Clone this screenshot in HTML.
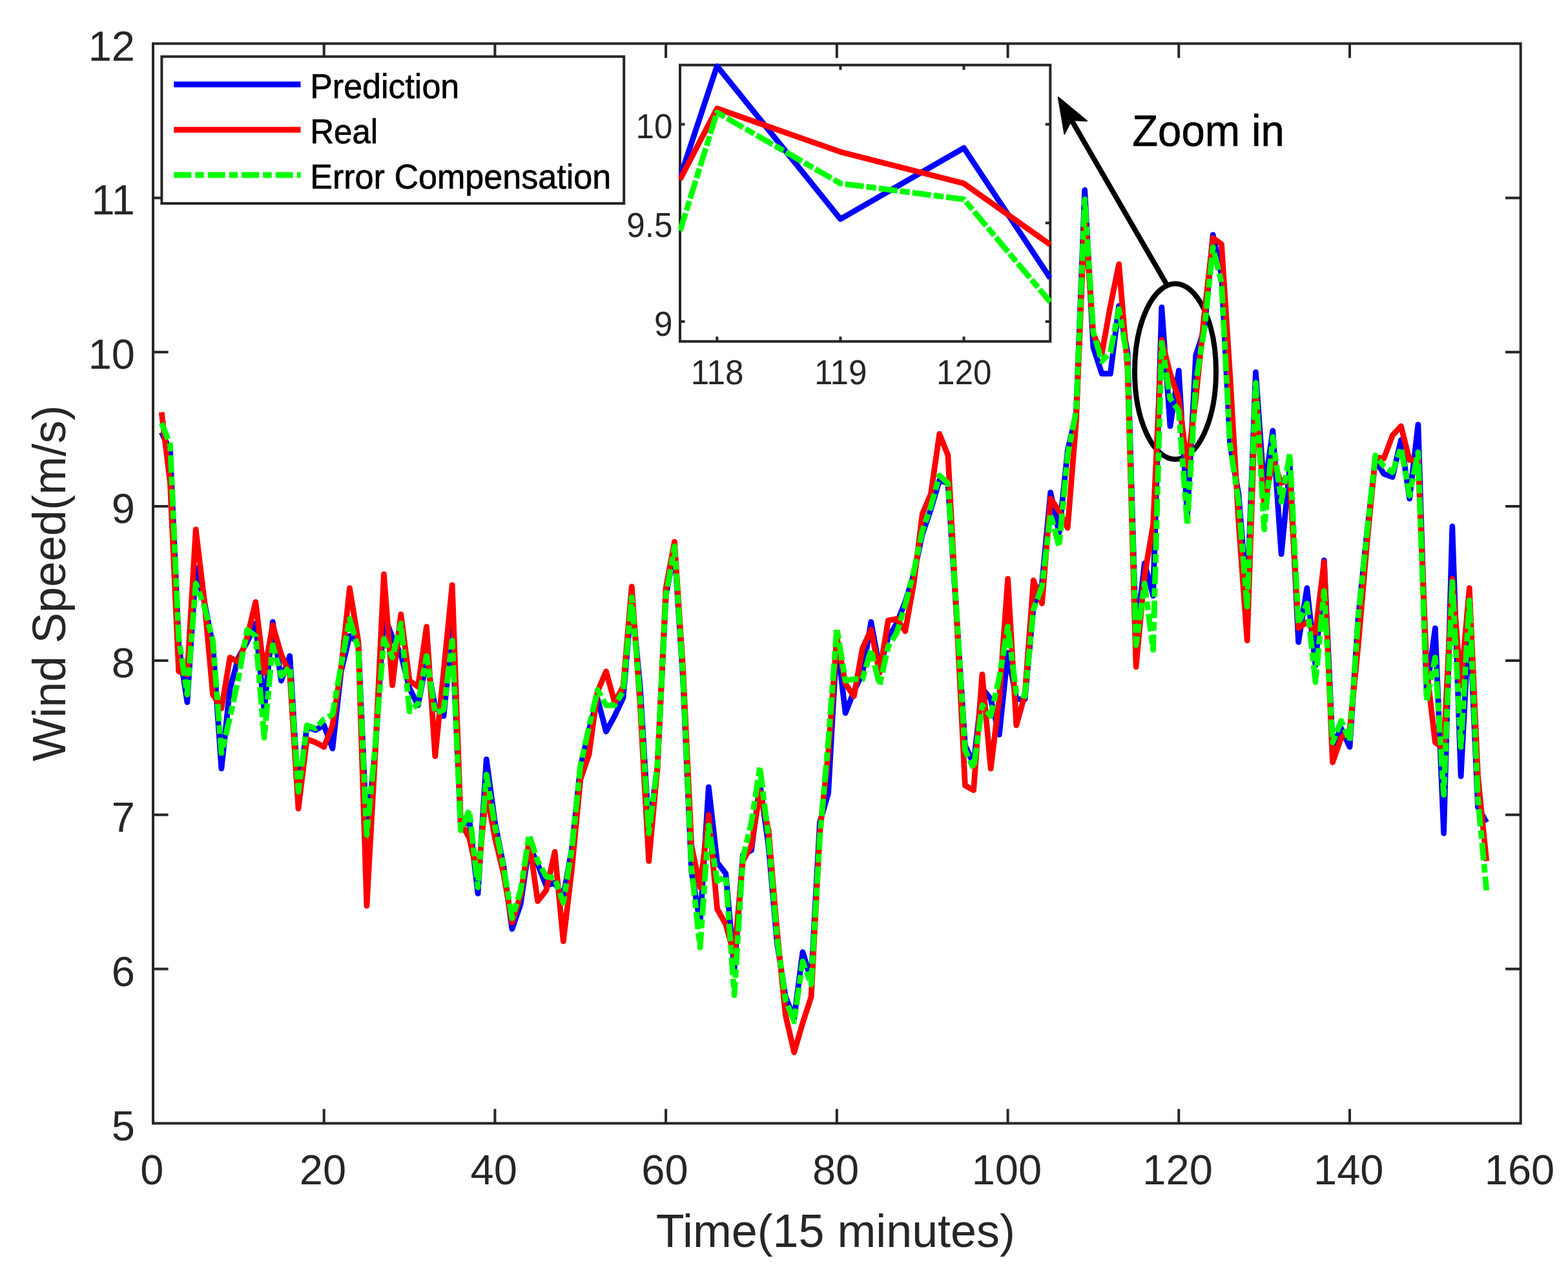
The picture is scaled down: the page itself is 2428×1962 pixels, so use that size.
<!DOCTYPE html>
<html lang="en"><head><meta charset="utf-8"><title>Wind speed prediction</title>
<style>html,body{margin:0;padding:0;background:#fff}body{width:2428px;height:1962px;overflow:hidden}svg{display:block}text{font-family:'Liberation Sans', sans-serif}</style>
</head><body>
<svg width="2428" height="1962" viewBox="0 0 2428 1962">
<rect width="2428" height="1962" fill="#fff"/>
<defs><clipPath id="cm"><rect x="237.0" y="67.5" width="2117.7" height="1672.0"/></clipPath>
<clipPath id="ci"><rect x="1050.8" y="98.5" width="577.7" height="432.4"/></clipPath></defs>
<ellipse cx="1820.0" cy="575.3" rx="63.0" ry="136.0" fill="none" stroke="#000" stroke-width="8.0"/>
<g stroke="#262626" stroke-width="4.0" fill="none" stroke-linecap="butt">
<rect x="237.0" y="67.5" width="2117.7" height="1672.0"/>
<path d="M501.7 1739.5v-22.3M501.7 67.5v22.3M766.4 1739.5v-22.3M766.4 67.5v22.3M1031.1 1739.5v-22.3M1031.1 67.5v22.3M1295.8 1739.5v-22.3M1295.8 67.5v22.3M1560.6 1739.5v-22.3M1560.6 67.5v22.3M1825.3 1739.5v-22.3M1825.3 67.5v22.3M2090.0 1739.5v-22.3M2090.0 67.5v22.3M237.0 1500.6h23.6M2354.7 1500.6h-23.6M237.0 1261.8h23.6M2354.7 1261.8h-23.6M237.0 1022.9h23.6M2354.7 1022.9h-23.6M237.0 784.1h23.6M2354.7 784.1h-23.6M237.0 545.2h23.6M2354.7 545.2h-23.6M237.0 306.4h23.6M2354.7 306.4h-23.6"/>
</g>
<g clip-path="url(#cm)" fill="none" stroke-width="8.80" stroke-linejoin="round" stroke-linecap="butt">
<polyline stroke="#0000ff" points="250.2,669.4 263.5,698.1 276.7,999.0 289.9,1087.4 303.2,879.6 316.4,932.2 329.6,999.0 342.9,1190.1 356.1,1065.9 369.4,1018.2 382.6,994.3 395.8,965.6 409.1,1099.4 422.3,963.2 435.5,1054.0 448.8,1015.8 462.0,1230.7 475.2,1125.6 488.5,1130.4 501.7,1123.2 514.9,1159.1 528.2,1039.6 541.4,984.7 554.7,994.3 567.9,1290.4 581.1,1161.5 594.4,951.3 607.6,987.1 620.8,1013.4 634.1,1065.9 647.3,1092.2 660.5,1022.9 673.8,1094.6 687.0,1108.9 700.2,975.2 713.5,1280.9 726.7,1269.0 740.0,1383.6 753.2,1175.8 766.4,1273.7 779.7,1340.6 792.9,1438.5 806.1,1400.3 819.4,1309.6 832.6,1338.2 845.8,1371.7 859.1,1366.9 872.3,1388.4 885.5,1314.3 898.8,1187.7 912.0,1130.4 925.3,1082.6 938.5,1132.8 951.7,1108.9 965.0,1080.3 978.2,927.4 991.4,1065.9 1004.7,1285.7 1017.9,1190.1 1031.1,922.6 1044.4,851.0 1057.6,1051.6 1070.8,1350.2 1084.1,1429.0 1097.3,1218.8 1110.6,1335.8 1123.8,1352.6 1137.0,1500.6 1150.3,1323.9 1163.5,1316.7 1176.7,1214.0 1190.0,1309.6 1203.2,1460.0 1216.4,1543.6 1229.7,1577.1 1242.9,1474.4 1256.1,1517.4 1269.4,1273.7 1282.6,1228.3 1295.8,991.9 1309.1,1104.1 1322.3,1070.7 1335.6,1042.0 1348.8,963.2 1362.0,1034.9 1375.3,987.1 1388.5,965.6 1401.7,932.2 1415.0,889.2 1428.2,827.1 1441.4,788.8 1454.7,743.5 1467.9,748.2 1481.1,951.3 1494.4,1154.3 1507.6,1183.0 1520.9,1065.9 1534.1,1082.6 1547.3,1137.6 1560.6,1011.0 1573.8,1082.6 1587.0,1082.6 1600.3,939.3 1613.5,903.5 1626.7,762.6 1640.0,824.7 1653.2,698.1 1666.4,640.8 1679.7,294.4 1692.9,538.0 1706.2,578.7 1719.4,578.7 1732.6,473.6 1745.9,545.2 1759.1,987.1 1772.3,872.4 1785.6,922.6 1798.8,475.9 1812.0,659.9 1825.3,573.9 1838.5,798.4 1851.7,550.0 1865.0,509.4 1878.2,363.7 1891.5,425.8 1904.7,688.5 1917.9,765.0 1931.2,927.4 1944.4,576.3 1957.6,760.2 1970.9,667.0 1984.1,858.1 1997.3,722.0 2010.6,994.3 2023.8,910.7 2037.0,1030.1 2050.3,867.7 2063.5,1154.3 2076.8,1128.0 2090.0,1156.7 2103.2,956.0 2116.5,827.1 2129.7,712.4 2142.9,733.9 2156.2,738.7 2169.4,681.4 2182.6,772.1 2195.9,657.5 2209.1,1070.7 2222.3,972.8 2235.6,1290.4 2248.8,815.1 2262.1,1202.1 2275.3,951.3 2288.5,1249.8 2301.8,1273.7"/>
<polyline stroke="#ff0000" points="250.2,638.4 263.5,748.2 276.7,1039.6 289.9,1044.4 303.2,819.9 316.4,929.8 329.6,1075.5 342.9,1097.0 356.1,1018.2 369.4,1025.3 382.6,987.1 395.8,932.2 409.1,1042.0 422.3,968.0 435.5,1013.4 448.8,1044.4 462.0,1252.2 475.2,1144.7 488.5,1149.5 501.7,1156.7 514.9,1123.2 528.2,1034.9 541.4,910.7 554.7,991.9 567.9,1402.7 581.1,1166.2 594.4,889.2 607.6,1061.1 620.8,951.3 634.1,1054.0 647.3,1063.5 660.5,970.4 673.8,1171.0 687.0,1039.6 700.2,905.9 713.5,1273.7 726.7,1297.6 740.0,1357.3 753.2,1226.0 766.4,1297.6 779.7,1352.6 792.9,1429.0 806.1,1386.0 819.4,1302.4 832.6,1395.5 845.8,1378.8 859.1,1319.1 872.3,1457.6 885.5,1345.4 898.8,1206.8 912.0,1168.6 925.3,1070.7 938.5,1039.6 951.7,1087.4 965.0,1063.5 978.2,908.3 991.4,1094.6 1004.7,1333.4 1017.9,1190.1 1031.1,910.7 1044.4,839.0 1057.6,1034.9 1070.8,1309.6 1084.1,1374.0 1097.3,1261.8 1110.6,1407.5 1123.8,1431.4 1137.0,1479.1 1150.3,1333.4 1163.5,1309.6 1176.7,1226.0 1190.0,1285.7 1203.2,1440.9 1216.4,1572.3 1229.7,1629.6 1242.9,1584.2 1256.1,1543.6 1269.4,1290.4 1282.6,1166.2 1295.8,987.1 1309.1,1058.8 1322.3,1077.9 1335.6,1003.8 1348.8,975.2 1362.0,1042.0 1375.3,960.8 1388.5,958.4 1401.7,977.5 1415.0,903.5 1428.2,796.0 1441.4,765.0 1454.7,671.8 1467.9,705.2 1481.1,951.3 1494.4,1216.4 1507.6,1223.6 1520.9,1044.4 1534.1,1190.1 1547.3,1082.6 1560.6,896.3 1573.8,1123.2 1587.0,1075.5 1600.3,898.7 1613.5,934.6 1626.7,772.1 1640.0,791.2 1653.2,817.5 1666.4,652.7 1679.7,330.2 1692.9,516.6 1706.2,547.6 1719.4,473.6 1732.6,409.1 1745.9,569.1 1759.1,1032.5 1772.3,891.6 1785.6,812.7 1798.8,526.1 1812.0,578.7 1825.3,616.9 1838.5,722.0 1851.7,616.9 1865.0,485.5 1878.2,368.5 1891.5,378.0 1904.7,581.0 1917.9,808.0 1931.2,991.9 1944.4,604.9 1957.6,784.1 1970.9,712.4 1984.1,748.2 1997.3,741.1 2010.6,972.8 2023.8,963.2 2037.0,979.9 2050.3,870.1 2063.5,1180.6 2076.8,1142.4 2090.0,1130.4 2103.2,999.0 2116.5,843.8 2129.7,707.6 2142.9,710.0 2156.2,674.2 2169.4,659.9 2182.6,712.4 2195.9,712.4 2209.1,1034.9 2222.3,1149.5 2235.6,1159.1 2248.8,896.3 2262.1,1061.1 2275.3,910.7 2288.5,1202.1 2301.8,1333.4"/>
<polyline stroke="#00ff00" stroke-dasharray="27 6 13.5 6" points="250.2,655.1 263.5,688.5 276.7,987.1 289.9,1075.5 303.2,903.5 316.4,939.3 329.6,991.9 342.9,1166.2 356.1,1111.3 369.4,1049.2 382.6,975.2 395.8,984.7 409.1,1142.4 422.3,999.0 435.5,1046.8 448.8,1032.5 462.0,1226.0 475.2,1123.2 488.5,1128.0 501.7,1113.7 514.9,1106.5 528.2,1030.1 541.4,958.4 554.7,1003.8 567.9,1292.8 581.1,1154.3 594.4,989.5 607.6,1018.2 620.8,965.6 634.1,1101.8 647.3,1089.8 660.5,1015.8 673.8,1104.1 687.0,1099.4 700.2,991.9 713.5,1285.7 726.7,1254.6 740.0,1374.0 753.2,1199.7 766.4,1278.5 779.7,1343.0 792.9,1421.8 806.1,1378.8 819.4,1292.8 832.6,1333.4 845.8,1357.3 859.1,1359.7 872.3,1397.9 885.5,1314.3 898.8,1185.4 912.0,1125.6 925.3,1068.3 938.5,1092.2 951.7,1092.2 965.0,1070.7 978.2,925.0 991.4,1082.6 1004.7,1290.4 1017.9,1185.4 1031.1,922.6 1044.4,846.2 1057.6,1046.8 1070.8,1345.4 1084.1,1467.2 1097.3,1278.5 1110.6,1364.5 1123.8,1357.3 1137.0,1541.2 1150.3,1328.7 1163.5,1273.7 1176.7,1187.7 1190.0,1297.6 1203.2,1452.9 1216.4,1548.4 1229.7,1581.9 1242.9,1488.7 1256.1,1524.5 1269.4,1297.6 1282.6,1147.1 1295.8,972.8 1309.1,1054.0 1322.3,1051.6 1335.6,1051.6 1348.8,1006.2 1362.0,1061.1 1375.3,1001.4 1388.5,979.9 1401.7,936.9 1415.0,884.4 1428.2,822.3 1441.4,784.1 1454.7,736.3 1467.9,748.2 1481.1,944.1 1494.4,1161.5 1507.6,1190.1 1520.9,1092.2 1534.1,1108.9 1547.3,1049.2 1560.6,970.4 1573.8,1073.1 1587.0,1077.9 1600.3,944.1 1613.5,908.3 1626.7,796.0 1640.0,846.2 1653.2,705.2 1666.4,636.0 1679.7,308.7 1692.9,514.2 1706.2,559.5 1719.4,545.2 1732.6,478.3 1745.9,557.2 1759.1,999.0 1772.3,903.5 1785.6,1006.2 1798.8,530.9 1812.0,616.9 1825.3,636.0 1838.5,812.7 1851.7,593.0 1865.0,509.4 1878.2,382.8 1891.5,437.7 1904.7,688.5 1917.9,776.9 1931.2,939.3 1944.4,593.0 1957.6,819.9 1970.9,676.6 1984.1,776.9 1997.3,702.9 2010.6,965.6 2023.8,934.6 2037.0,1056.4 2050.3,915.4 2063.5,1149.5 2076.8,1116.1 2090.0,1147.1 2103.2,956.0 2116.5,827.1 2129.7,705.2 2142.9,722.0 2156.2,731.5 2169.4,693.3 2182.6,767.4 2195.9,700.5 2209.1,1085.0 2222.3,1018.2 2235.6,1230.7 2248.8,901.1 2262.1,1156.7 2275.3,929.8 2288.5,1237.9 2301.8,1378.8"/>
</g>
<g fill="#262626" font-size="65">
<text x="235.3" y="1834.3" text-anchor="middle">0</text>
<text x="500.0" y="1834.3" text-anchor="middle">20</text>
<text x="764.7" y="1834.3" text-anchor="middle">40</text>
<text x="1029.4" y="1834.3" text-anchor="middle">60</text>
<text x="1294.1" y="1834.3" text-anchor="middle">80</text>
<text x="1558.9" y="1834.3" text-anchor="middle">100</text>
<text x="1823.6" y="1834.3" text-anchor="middle">120</text>
<text x="2088.3" y="1834.3" text-anchor="middle">140</text>
<text x="2353.0" y="1834.3" text-anchor="middle">160</text>
<text x="209.0" y="1765.5" text-anchor="end">5</text>
<text x="209.0" y="1526.6" text-anchor="end">6</text>
<text x="209.0" y="1287.8" text-anchor="end">7</text>
<text x="209.0" y="1048.9" text-anchor="end">8</text>
<text x="209.0" y="810.1" text-anchor="end">9</text>
<text x="209.0" y="571.2" text-anchor="end">10</text>
<text x="209.0" y="332.4" text-anchor="end">11</text>
<text x="209.0" y="93.5" text-anchor="end">12</text>
</g>
<text x="1015.8" y="1931.4" font-size="73" fill="#262626" textLength="556" lengthAdjust="spacingAndGlyphs">Time(15 minutes)</text>
<text transform="translate(101.0 905.0) rotate(-90)" x="-273.8" font-size="73" fill="#262626" textLength="551.4" lengthAdjust="spacingAndGlyphs">Wind Speed(m/s)</text>
<rect x="250.4" y="87.6" width="715.8" height="227.4" fill="#fff" stroke="#262626" stroke-width="4.0"/>
<g fill="none" stroke-width="9.00">
<path stroke="#0000ff" d="M269.2 130.8H465.5"/>
<path stroke="#ff0000" d="M269.2 201.0H465.5"/>
<path stroke="#00ff00" stroke-dasharray="27 6 13.5 6" d="M269.2 271.1H465.5"/>
</g>
<g fill="#000" stroke="#000" stroke-width="0.7" stroke-linejoin="round" font-size="54">
<text x="480.2" y="151.8" textLength="231" lengthAdjust="spacingAndGlyphs">Prediction</text>
<text x="480.2" y="221.8" textLength="105" lengthAdjust="spacingAndGlyphs">Real</text>
<text x="480.2" y="292.3" textLength="466" lengthAdjust="spacingAndGlyphs">Error Compensation</text>
</g>
<rect x="1053.0" y="100.7" width="573.3" height="428.0" fill="#fff"/>
<g stroke="#262626" stroke-width="4.0" fill="none">
<rect x="1053.0" y="100.7" width="573.3" height="428.0"/>
<path d="M1110.3 528.7v-7.5M1110.3 100.7v7.5M1301.4 528.7v-7.5M1301.4 100.7v7.5M1492.5 528.7v-7.5M1492.5 100.7v7.5M1053.0 498.1h7.5M1626.3 498.1h-7.5M1053.0 345.3h7.5M1626.3 345.3h-7.5M1053.0 192.4h7.5M1626.3 192.4h-7.5"/>
</g>
<g clip-path="url(#ci)" fill="none" stroke-width="8.80" stroke-linejoin="round">
<polyline stroke="#0000ff" points="1053.0,275.0 1110.3,102.2 1301.4,339.2 1492.5,229.1 1626.3,430.9"/>
<polyline stroke="#ff0000" points="1053.0,278.0 1110.3,168.0 1301.4,235.2 1492.5,284.1 1626.3,378.9"/>
<polyline stroke="#00ff00" stroke-dasharray="29 4 15.5 4" points="1053.0,357.5 1110.3,174.1 1301.4,284.1 1492.5,308.6 1626.3,467.6"/>
</g>
<g fill="#262626" font-size="53.5">
<text transform="translate(1110.6 595.3) scale(0.957 1)" text-anchor="middle">118</text>
<text transform="translate(1301.7 595.3) scale(0.957 1)" text-anchor="middle">119</text>
<text transform="translate(1492.8 595.3) scale(0.957 1)" text-anchor="middle">120</text>
<text transform="translate(1041.4 519.5) scale(0.957 1)" text-anchor="end">9</text>
<text transform="translate(1041.4 366.7) scale(0.957 1)" text-anchor="end">9.5</text>
<text transform="translate(1041.4 213.8) scale(0.957 1)" text-anchor="end">10</text>
</g>
<path d="M1659.2 186.1L1806.6 440.6" stroke="#000" stroke-width="8" fill="none"/>
<path d="M1638.7 150.6L1648.4 207.4L1659.2 186.1L1683.1 187.3Z" fill="#000" stroke="#000" stroke-width="2" stroke-linejoin="round"/>
<text x="1753.3" y="225.6" font-size="68" fill="#000" stroke="#000" stroke-width="0.7" stroke-linejoin="round" textLength="235.5" lengthAdjust="spacingAndGlyphs">Zoom in</text>
</svg>
</body></html>
